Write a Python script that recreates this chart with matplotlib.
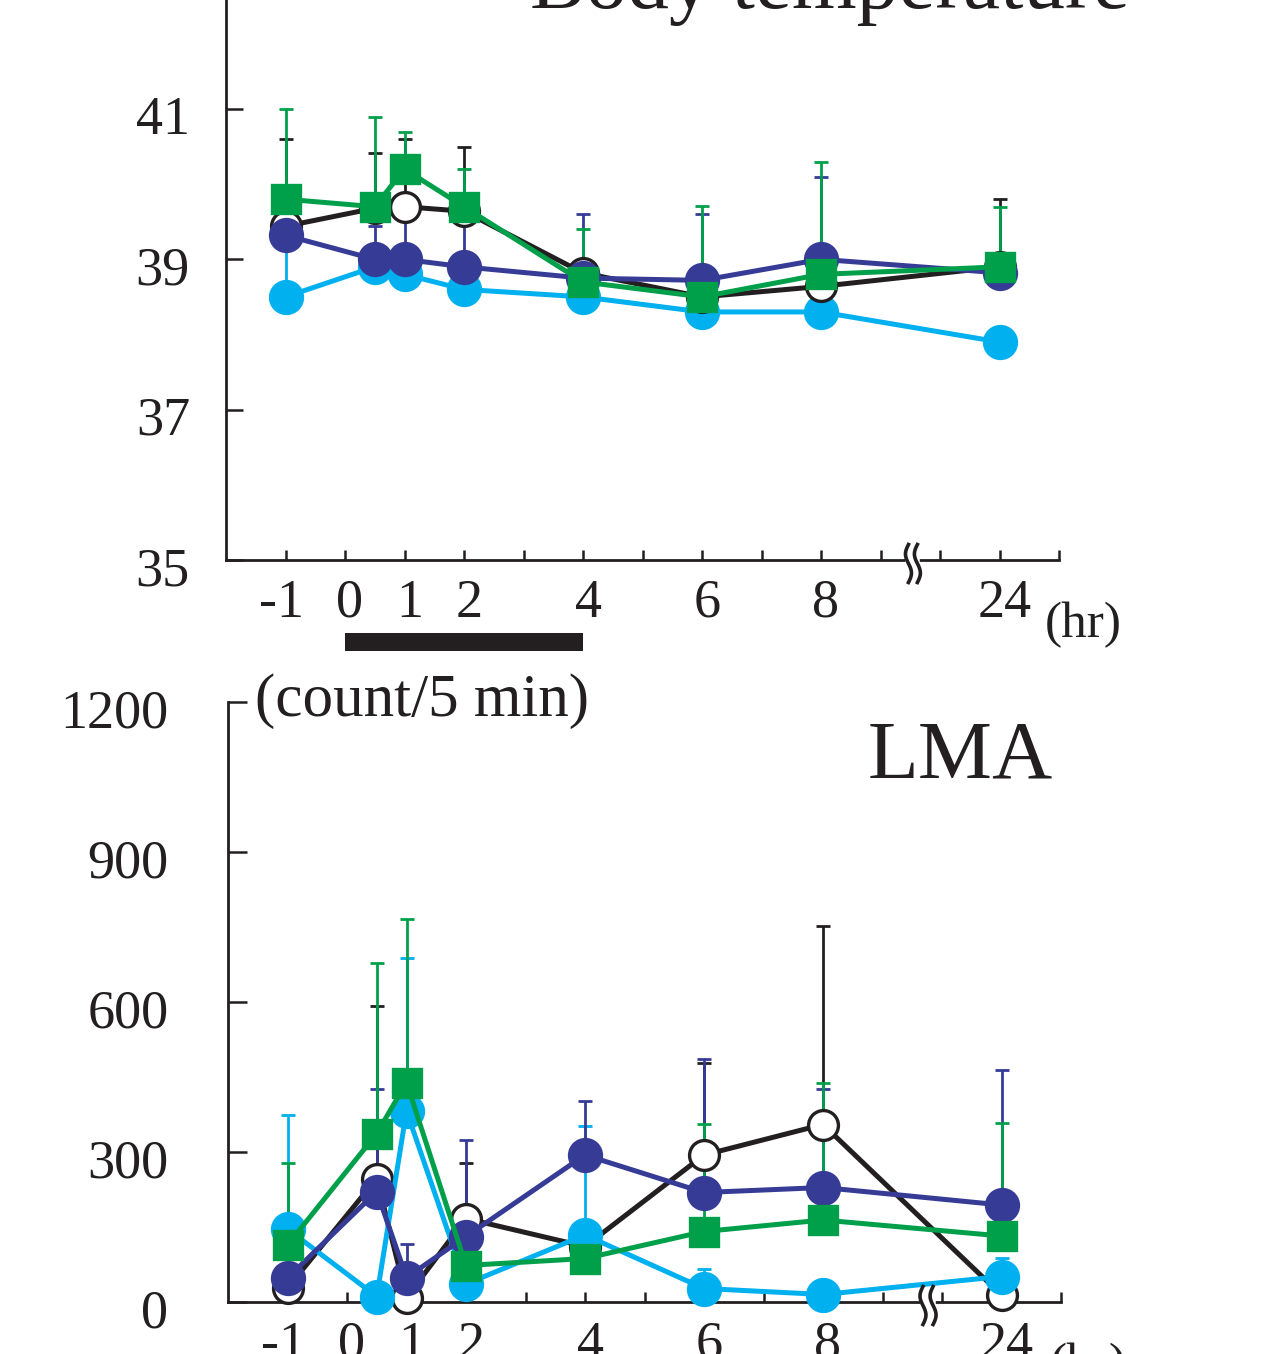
import matplotlib
matplotlib.use('Agg')
import matplotlib.pyplot as plt
import numpy as np
from matplotlib.transforms import blended_transform_factory, ScaledTranslation
from matplotlib.patches import Rectangle

plt.rcParams['font.family'] = ['Liberation Serif', 'DejaVu Serif']

# ---------------- data ----------------
tick_pos = [-1, 0, 1, 2, 4, 6, 8, 11]          # 24 hr drawn at 11 after the axis break
tick_labels = ['-1', '0', '1', '2', '4', '6', '8', '24']
time_pos = [-1, 0.5, 1, 2, 4, 6, 8, 11]

# Body temperature (deg C): mean and upper SD end
temp_black = [39.44, 39.68, 39.70, 39.64, 38.82, 38.50, 38.64, 38.90]
temp_black_up = [40.60, 40.42, 40.60, 40.50, 38.95, 38.60, 38.75, 39.80]
temp_navy = [39.32, 39.00, 39.00, 38.90, 38.75, 38.72, 39.00, 38.82]
temp_navy_up = [39.55, 39.45, 39.60, 39.60, 39.60, 39.60, 40.10, 38.90]
temp_green = [39.80, 39.70, 40.20, 39.70, 38.70, 38.50, 38.80, 38.90]
temp_green_up = [41.00, 40.90, 40.70, 40.20, 39.40, 39.71, 40.30, 39.70]
temp_cyan = [38.50, 38.90, 38.80, 38.60, 38.50, 38.30, 38.30, 37.90]
temp_cyan_up = [39.20, 39.00, 38.90, 38.70, 38.60, 38.40, 38.40, 38.00]

# LMA (count/5 min): mean and upper SD end
lma_black = [28, 247, 9, 167, 111, 294, 355, 14]
lma_black_up = [60, 592, 30, 279, 140, 479, 752, 30]
lma_navy = [48, 221, 49, 131, 294, 219, 229, 194]
lma_navy_up = [100, 427, 117, 325, 403, 486, 426, 465]
lma_green = [114, 337, 439, 73, 87, 141, 164, 132]
lma_green_up = [279, 679, 767, 90, 120, 357, 439, 359]
lma_cyan = [146, 11, 382, 36, 134, 27, 15, 51]
lma_cyan_up = [374, 30, 689, 55, 353, 67, 35, 89]

BLACK = '#231f20'
NAVY = '#363b96'
CYAN = '#00b0ef'
GREEN = '#00a04b'

W, H = 1263, 1354
DPI = 100
fig = plt.figure(figsize=(W / DPI, H / DPI), dpi=DPI)

ax1 = fig.add_axes([226 / W, 1 - 560 / H, (1059 - 226) / W, 560 / H])
ax2 = fig.add_axes([228 / W, 1 - 1302 / H, (1061 - 228) / W, 600 / H])


def series(ax, x, y, up, color, marker, mfc, ms, z):
    y = np.array(y, float)
    up = np.array(up, float)
    ax.errorbar(x, y, yerr=[np.zeros_like(y), up - y], fmt='none', ecolor=color,
                elinewidth=2.0, capsize=5, capthick=2.0, zorder=2)
    ax.plot(x, y, color=color, lw=3.6, marker=marker, ms=ms, mfc=mfc,
            mec=color, mew=2.4, zorder=z, clip_on=False)


def style(ax, ylim, yticks, ypad, ylen):
    ax.set_xlim(-2, 12)
    ax.set_ylim(*ylim)
    for s in ['top', 'right']:
        ax.spines[s].set_visible(False)
    for s in ['left', 'bottom']:
        ax.spines[s].set_linewidth(2.0)
        ax.spines[s].set_color(BLACK)
    ax.set_xticks(tick_pos)
    ax.set_xticklabels(tick_labels)
    ax.set_xticks(np.arange(-1, 13), minor=True)
    ax.set_yticks(yticks)
    ax.set_yticklabels([str(v) for v in yticks])
    ax.tick_params(axis='x', which='both', direction='in', length=7, width=1.8,
                   color=BLACK, labelsize=39, pad=13, labelcolor=BLACK)
    ax.tick_params(axis='y', direction='in', length=ylen, width=1.8, color=BLACK,
                   labelsize=39, pad=ypad, labelcolor=BLACK)
    for lab in ax.get_yticklabels():
        lab.set_transform(lab.get_transform() + ScaledTranslation(0, -6 / DPI, fig.dpi_scale_trans))
    for i, lab in enumerate(ax.get_xticklabels()):
        dx = -4 if i == 0 else 5
        lab.set_transform(lab.get_transform() + ScaledTranslation(dx / DPI, 0, fig.dpi_scale_trans))
    ax.patch.set_alpha(0)


def axis_break(ax, xs, hpx):
    blend = blended_transform_factory(ax.transData, ax.transAxes)
    ax.plot([xs[0], xs[1]], [0, 0], color='white', lw=4, transform=blend,
            clip_on=False, zorder=5)
    t = np.linspace(-1, 1, 60)
    for x0 in xs:
        xx = x0 + 0.05 * np.sin(np.pi * t)
        yy = (t * 19 + 3.5) / hpx * -1
        ax.plot(xx, yy, color=BLACK, lw=2.6, transform=blend, clip_on=False, zorder=6)


# ---------------- top panel ----------------
series(ax1, time_pos, temp_cyan, temp_cyan_up, CYAN, 'o', CYAN, 23, 3)
series(ax1, time_pos, temp_black, temp_black_up, BLACK, 'o', 'white', 21.5, 4)
series(ax1, time_pos, temp_navy, temp_navy_up, NAVY, 'o', NAVY, 23, 5)
series(ax1, time_pos, temp_green, temp_green_up, GREEN, 's', GREEN, 20, 6)
style(ax1, (35, 42.45), [35, 37, 39, 41], 26, 12)
axis_break(ax1, [9.47, 9.62], 560)

blend1 = blended_transform_factory(ax1.transData, ax1.transAxes)
ax1.add_patch(Rectangle((0, -0.1625), 4, 0.032, transform=blend1, clip_on=False,
                        color=BLACK, lw=0))

fig.text(530 / W, 1 - 8 / H, 'Body temperature', fontsize=60, ha='left',
         va='baseline', color=BLACK)
fig.text(1045 / W, 1 - 637 / H, '(hr)', fontsize=37, ha='left', va='baseline', color=BLACK)

# ---------------- bottom panel ----------------
series(ax2, time_pos, lma_black, lma_black_up, BLACK, 'o', 'white', 21.5, 3)
series(ax2, time_pos, lma_cyan, lma_cyan_up, CYAN, 'o', CYAN, 23, 4)
series(ax2, time_pos, lma_navy, lma_navy_up, NAVY, 'o', NAVY, 23, 5)
series(ax2, time_pos, lma_green, lma_green_up, GREEN, 's', GREEN, 20, 6)
style(ax2, (0, 1200), [0, 300, 600, 900, 1200], 43, 14)
axis_break(ax2, [9.68, 9.85], 600)

fig.text(868 / W, 1 - 778 / H, 'LMA', fontsize=60, ha='left', va='baseline', color=BLACK)
fig.text(255 / W, 1 - 716 / H, '(count/5 min)', fontsize=44, ha='left',
         va='baseline', color=BLACK)
fig.text(1050 / W, 1 - 1378 / H, '(hr)', fontsize=37, ha='left', va='baseline', color=BLACK)

fig.savefig('out.png', dpi=DPI)
